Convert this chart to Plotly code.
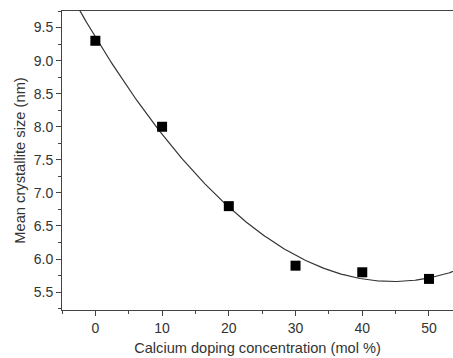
import numpy as np
import plotly.graph_objects as go

conc = [0, 10, 20, 30, 40, 50]
size = [9.3, 8.0, 6.8, 5.9, 5.8, 5.7]

coef = np.polyfit(conc, size, 2)
xf = np.linspace(-5, 56, 300)
yf = np.polyval(coef, xf)

fig = go.Figure()
fig.add_trace(go.Scatter(x=xf, y=yf, mode="lines", line=dict(color="#333333", width=1.2), hoverinfo="skip"))
fig.add_trace(go.Scatter(x=conc, y=size, mode="markers",
                         marker=dict(symbol="square", size=10, color="black")))

font = "Liberation Sans, Arial, sans-serif"
fig.update_layout(
    width=453, height=358, showlegend=False,
    margin=dict(l=62, r=0, t=11, b=48),
    plot_bgcolor="white", paper_bgcolor="white",
    font=dict(family=font, size=14, color="#333333"),
)
fig.update_xaxes(range=[-5, 53.6], tickvals=[0, 10, 20, 30, 40, 50],
                 ticks="outside", ticklen=5, tickcolor="#444", showgrid=False, zeroline=False,
                 showline=True, linecolor="#444", linewidth=1, mirror=True,
                 minor=dict(ticks="outside", ticklen=3, dtick=5, tickcolor="#444"),
                 title=dict(text="Calcium doping concentration (mol %)", font=dict(size=14.6), standoff=7),
                 tickfont=dict(size=14))
fig.update_yaxes(range=[5.23, 9.75], tickvals=[5.5, 6.0, 6.5, 7.0, 7.5, 8.0, 8.5, 9.0, 9.5],
                 ticktext=["5.5", "6.0", "6.5", "7.0", "7.5", "8.0", "8.5", "9.0", "9.5"],
                 ticks="outside", ticklen=5, tickcolor="#444", showgrid=False, zeroline=False,
                 showline=True, linecolor="#444", linewidth=1, mirror=True,
                 minor=dict(ticks="outside", ticklen=3, dtick=0.25, tick0=5.5, tickcolor="#444"),
                 title=dict(text="Mean crystallite size (nm)", font=dict(size=14.7), standoff=4),
                 tickfont=dict(size=14))
fig.write_html("out.html")
